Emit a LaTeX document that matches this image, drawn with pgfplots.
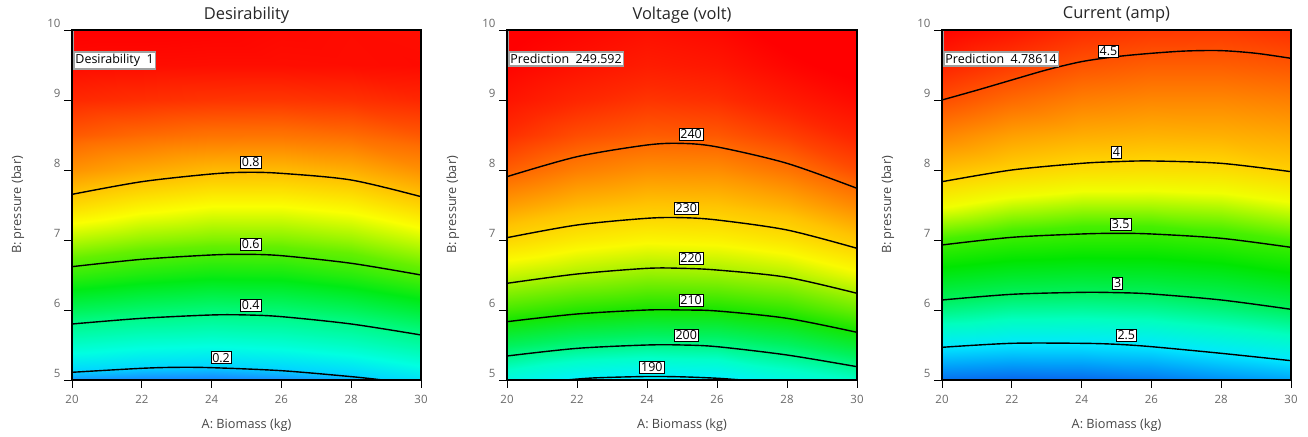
\documentclass[border=0pt]{standalone}
\usepackage{fontspec}
\setmainfont{Open Sans}
\usepackage{pgfplots}
\pgfplotsset{compat=1.18}
\usepackage{pgfplotstable}

\definecolor{tickgray}{RGB}{105,105,105}
\definecolor{labgray}{RGB}{70,70,70}
\definecolor{flagedge}{RGB}{160,160,160}

% colour scales, positions given in units of the response (x100 where needed)
\pgfplotsset{
  colormap={desir}{rgb255(10pt)=(0,90,255) rgb255(17pt)=(20,150,255)
    rgb255(21pt)=(0,215,255) rgb255(28pt)=(0,255,225) rgb255(40pt)=(0,250,135)
    rgb255(52pt)=(0,235,20) rgb255(62pt)=(100,240,0) rgb255(72pt)=(250,255,0)
    rgb255(80pt)=(255,195,0) rgb255(90pt)=(255,110,0) rgb255(96pt)=(255,45,0)
    rgb255(100pt)=(255,0,0)},
  colormap={volt}{rgb255(185pt)=(0,190,255) rgb255(190pt)=(0,240,255)
    rgb255(196pt)=(0,255,200) rgb255(203pt)=(0,242,95) rgb255(210pt)=(20,230,0)
    rgb255(218pt)=(140,240,0) rgb255(225pt)=(250,250,0) rgb255(232pt)=(255,195,0)
    rgb255(240pt)=(255,105,0) rgb255(245pt)=(255,40,0) rgb255(249pt)=(255,0,0)
    rgb255(252pt)=(255,0,0)},
  colormap={amp}{rgb255(210pt)=(10,90,235) rgb255(230pt)=(0,160,250)
    rgb255(250pt)=(0,232,255) rgb255(275pt)=(0,255,190) rgb255(300pt)=(0,240,90)
    rgb255(330pt)=(0,230,0) rgb255(355pt)=(70,240,0) rgb255(380pt)=(240,255,0)
    rgb255(400pt)=(255,210,0) rgb255(430pt)=(255,130,0) rgb255(455pt)=(255,65,0)
    rgb255(480pt)=(255,0,0)},
}

% response grids: a = biomass (kg), b = pressure (bar), v = response
\pgfplotstableread{
a b v
20 5.0 0.170
22 5.0 0.160
24 5.0 0.155
26 5.0 0.165
28 5.0 0.185
30 5.0 0.225
20 5.5 0.313
22 5.5 0.293
24 5.5 0.285
26 5.5 0.296
28 5.5 0.320
30 5.5 0.362
20 6.0 0.449
22 6.0 0.429
24 6.0 0.416
26 6.0 0.423
28 6.0 0.446
30 6.0 0.484
20 6.5 0.571
22 6.5 0.548
24 6.5 0.533
26 6.5 0.536
28 6.5 0.561
30 6.5 0.600
20 7.0 0.674
22 7.0 0.650
24 7.0 0.637
26 7.0 0.638
28 7.0 0.655
30 7.0 0.689
20 7.5 0.771
22 7.5 0.741
24 7.5 0.723
26 7.5 0.723
28 7.5 0.739
30 7.5 0.779
20 8.0 0.856
22 8.0 0.830
24 8.0 0.811
26 8.0 0.810
28 8.0 0.825
30 8.0 0.859
20 8.5 0.919
22 8.5 0.904
24 8.5 0.894
26 8.5 0.893
28 8.5 0.902
30 8.5 0.920
20 9.0 0.964
22 9.0 0.958
24 9.0 0.953
26 9.0 0.952
28 9.0 0.956
30 9.0 0.965
20 9.5 0.991
22 9.5 0.989
24 9.5 0.988
26 9.5 0.988
28 9.5 0.989
30 9.5 0.991
20 10.0 1.000
22 10.0 1.000
24 10.0 0.998
26 10.0 0.993
28 10.0 0.990
30 10.0 0.988
}\desirtab

\pgfplotstableread{
a b v
20 5.0 193.1
22 5.0 190.0
24 5.0 188.9
26 5.0 189.6
28 5.0 193.1
30 5.0 196.1
20 5.5 203.3
22 5.5 201.0
24 5.5 200.0
26 5.5 200.4
28 5.5 202.7
30 5.5 206.3
20 6.0 213.1
22 6.0 211.1
24 6.0 210.0
26 6.0 210.2
28 6.0 212.0
30 6.0 215.7
20 6.5 221.8
22 6.5 219.8
24 6.5 218.3
26 6.5 218.8
28 6.5 220.4
30 6.5 224.1
20 7.0 229.5
22 7.0 227.0
24 7.0 225.6
26 7.0 226.0
28 7.0 227.9
30 7.0 231.4
20 7.5 235.4
22 7.5 233.0
24 7.5 231.8
26 7.5 232.0
28 7.5 233.8
30 7.5 237.2
20 8.0 240.8
22 8.0 238.1
24 8.0 236.6
26 8.0 236.8
28 8.0 239.0
30 8.0 242.2
20 8.5 244.5
22 8.5 242.2
24 8.5 241.0
26 8.5 241.3
28 8.5 243.2
30 8.5 245.5
20 9.0 247.0
22 9.0 245.2
24 9.0 244.0
26 9.0 244.5
28 9.0 246.3
30 9.0 248.0
20 9.5 248.7
22 9.5 247.3
24 9.5 246.2
26 9.5 246.8
28 9.5 248.5
30 9.5 249.8
20 10.0 249.6
22 10.0 248.5
24 10.0 247.5
26 10.0 248.2
28 10.0 249.8
30 10.0 251.0
}\volttab

\pgfplotstableread{
a b v
20 5.0 2.16
22 5.0 2.13
24 5.0 2.14
26 5.0 2.18
28 5.0 2.25
30 5.0 2.31
20 5.5 2.52
22 5.5 2.49
24 5.5 2.49
26 5.5 2.51
28 5.5 2.58
30 5.5 2.65
20 6.0 2.90
22 6.0 2.84
24 6.0 2.83
26 6.0 2.85
28 6.0 2.91
30 6.0 2.99
20 6.5 3.23
22 6.5 3.17
24 6.5 3.15
26 6.5 3.16
28 6.5 3.20
30 6.5 3.28
20 7.0 3.54
22 7.0 3.48
24 7.0 3.45
26 7.0 3.45
28 7.0 3.49
30 7.0 3.55
20 7.5 3.82
22 7.5 3.74
24 7.5 3.70
26 7.5 3.70
28 7.5 3.72
30 7.5 3.78
20 8.0 4.07
22 8.0 4.00
24 8.0 3.95
26 8.0 3.94
28 8.0 3.95
30 8.0 4.01
20 8.5 4.29
22 8.5 4.19
24 8.5 4.14
26 8.5 4.12
28 8.5 4.13
30 8.5 4.16
20 9.0 4.50
22 9.0 4.39
24 9.0 4.31
26 9.0 4.28
28 9.0 4.28
30 9.0 4.31
20 9.5 4.67
22 9.5 4.57
24 9.5 4.48
26 9.5 4.44
28 9.5 4.44
30 9.5 4.47
20 10.0 4.79
22 10.0 4.72
24 10.0 4.63
26 10.0 4.59
28 10.0 4.58
30 10.0 4.62
}\amptab

\newcommand{\tickfont}{\fontsize{11.5}{13}\selectfont}
\newcommand{\labfont}{\fontsize{12.8}{15}\selectfont}

\pgfplotsset{
  panel/.style={
    scale only axis, height=350bp,
    xmin=20, xmax=30, ymin=5, ymax=10,
    xtick={20,22,24,26,28,30}, ytick={5,6,7,8,9,10},
    xtick pos=bottom, ytick pos=left,
    tick align=outside, major tick length=8bp,
    every tick/.style={black, line width=0.9bp},
    axis line style={black, line width=1.3bp},
    /pgf/number format/assume math mode=true,
    xticklabel style={font=\tickfont, text=tickgray, yshift=-4bp},
    yticklabel style={font=\tickfont, text=tickgray, anchor=south east, yshift=-1bp},
    xlabel={A: Biomass (kg)}, ylabel={B: pressure (bar)},
    every axis x label/.style={at={(axis description cs:0.5,-0.129)}, anchor=center,
      font=\labfont, text=labgray},
    every axis y label/.style={at={(axis description cs:-0.155,0.5)}, anchor=center,
      rotate=90, font=\labfont, text=labgray},
    every axis title shift=0pt,
    every axis title/.style={at={(axis description cs:0.5,1.043)}, anchor=center,
      font=\fontsize{16.5}{19}\selectfont, text=black!85},
    axis on top,
    anchor=south west,
  },
  field/.style={surf, shader=interp, mesh/cols=6, point meta=\thisrow{v}},
  cline/.style={black, line width=1.4bp, smooth, no markers},
}
\tikzset{
  clabel/.style={fill=white, draw=black, line width=0.7bp, inner sep=1.4bp,
    font=\fontsize{12.5}{14}\selectfont},
  flag/.style={fill=white, draw=flagedge, line width=1.6bp, inner xsep=1.6bp,
    inner ysep=2.4bp, anchor=north west, font=\fontsize{12.5}{14}\selectfont},
}

\begin{document}
\begin{tikzpicture}[x=1bp,y=1bp]
\useasboundingbox (0,0) rectangle (1308,437);

% Desirability
\begin{axis}[panel, at={(72bp,57bp)}, width=349bp, title={Desirability},
  colormap name=desir, point meta min=0.10, point meta max=1.00]
\addplot[field] table[x=a, y=b] {\desirtab};
\addplot[cline] coordinates {(20,7.652) (22,7.833) (24,7.943) (25,7.967) (26,7.952) (28,7.857) (30,7.619)};
\addplot[cline] coordinates {(20,6.619) (22,6.724) (24,6.786) (25,6.795) (26,6.776) (28,6.667) (30,6.5)};
\addplot[cline] coordinates {(20,5.8) (22,5.881) (24,5.929) (25,5.929) (26,5.905) (28,5.8) (30,5.643)};
\addplot[cline] coordinates {(20,5.11) (22,5.167) (23,5.181) (24,5.176) (26,5.133) (28,5.048) (28.9,5.0)};
\node[clabel] at (axis cs:25.12,8.11) {0.8};
\node[clabel] at (axis cs:25.12,6.94) {0.6};
\node[clabel] at (axis cs:25.12,6.07) {0.4};
\node[clabel] at (axis cs:24.27,5.32) {0.2};
\draw[flagedge, line width=1.4bp] (axis cs:20.03,10) -- (axis cs:20.03,9.69);
\node[flag] at (axis cs:20.03,9.70) {Desirability\ \ 1};
\end{axis}

% Voltage
\begin{axis}[panel, at={(507bp,57bp)}, width=350bp, title={Voltage (volt)},
  colormap name=volt, point meta min=185, point meta max=252]
\addplot[field] table[x=a, y=b] {\volttab};
\addplot[cline] coordinates {(20,7.905) (22,8.19) (24,8.357) (25,8.38) (26,8.33) (28,8.095) (30,7.738)};
\addplot[cline] coordinates {(20,7.033) (22,7.214) (24,7.31) (25,7.319) (26,7.286) (28,7.143) (30,6.881)};
\addplot[cline] coordinates {(20,6.381) (22,6.514) (24,6.595) (25,6.595) (26,6.571) (28,6.467) (30,6.238)};
\addplot[cline] coordinates {(20,5.833) (22,5.943) (24,6.0) (25,6.0) (26,5.986) (28,5.881) (30,5.681)};
\addplot[cline] coordinates {(20,5.343) (22,5.452) (24,5.5) (25,5.5) (26,5.476) (28,5.357) (30,5.19)};
\addplot[cline] coordinates {(21.7,5.0) (22.5,5.03) (24,5.05) (25,5.045) (26,5.025) (26.7,5.0)};
\node[clabel] at (axis cs:25.26,8.51) {240};
\node[clabel] at (axis cs:25.12,7.45) {230};
\node[clabel] at (axis cs:25.26,6.74) {220};
\node[clabel] at (axis cs:25.26,6.14) {210};
\node[clabel] at (axis cs:25.12,5.64) {200};
\node[clabel] at (axis cs:24.14,5.18) {190};
\draw[flagedge, line width=1.4bp] (axis cs:20.03,10) -- (axis cs:20.03,9.69);
\node[flag] at (axis cs:20.03,9.70) {Prediction\ \ 249.592};
\end{axis}

% Current
\begin{axis}[panel, at={(942bp,57bp)}, width=349bp, title={Current (amp)},
  colormap name=amp, point meta min=2.10, point meta max=4.80]
\addplot[field] table[x=a, y=b] {\amptab};
\addplot[cline] coordinates {(20,9.0) (21,9.14) (22,9.286) (23,9.43) (24,9.548) (25,9.62) (26,9.667) (27,9.7) (28,9.705) (29,9.667) (30,9.595)};
\addplot[cline] coordinates {(20,7.833) (22,8.0) (24,8.095) (25,8.119) (26,8.129) (28,8.095) (30,7.976)};
\addplot[cline] coordinates {(20,6.929) (22,7.038) (24,7.086) (25,7.095) (26,7.086) (28,7.024) (30,6.895)};
\addplot[cline] coordinates {(20,6.143) (22,6.224) (24,6.252) (25,6.248) (26,6.229) (28,6.143) (30,6.01)};
\addplot[cline] coordinates {(20,5.467) (22,5.524) (24,5.524) (25,5.51) (26,5.476) (28,5.381) (30,5.276)};
\node[clabel] at (axis cs:24.77,9.70) {4.5};
\node[clabel] at (axis cs:25.0,8.25) {4};
\node[clabel] at (axis cs:25.12,7.23) {3.5};
\node[clabel] at (axis cs:25.03,6.38) {3};
\node[clabel] at (axis cs:25.28,5.64) {2.5};
\draw[flagedge, line width=1.4bp] (axis cs:20.03,10) -- (axis cs:20.03,9.69);
\node[flag] at (axis cs:20.03,9.70) {Prediction\ \ 4.78614};
\end{axis}
\end{tikzpicture}
\end{document}
